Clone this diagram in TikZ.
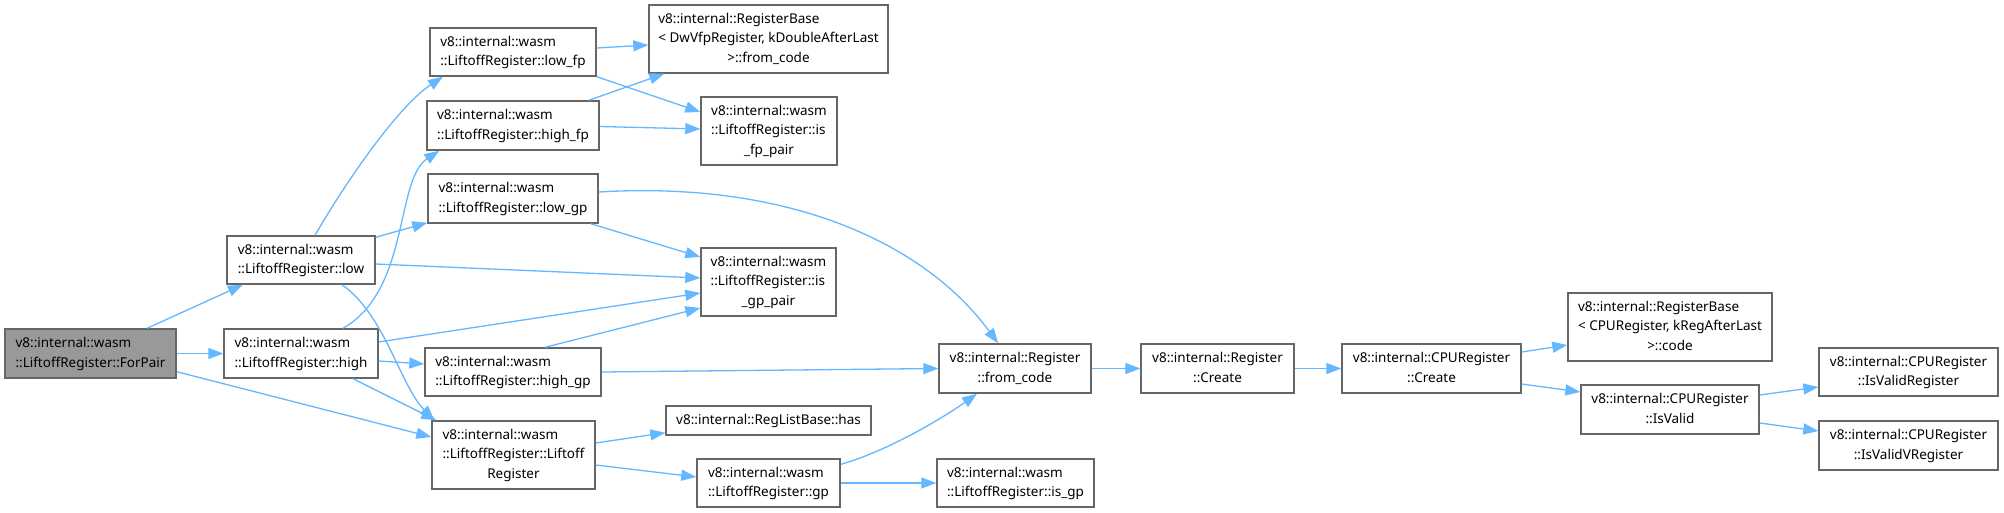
\documentclass[tikz,border=0pt]{standalone}
\usepackage{fontspec}
\setmainfont{Noto Sans}
\usetikzlibrary{arrows.meta}
\definecolor{edgec}{HTML}{63B8FF}
\definecolor{bordc}{HTML}{666666}
\definecolor{hlc}{HTML}{999999}
\newcommand{\twol}[2]{\begin{tabular}{@{}l@{}}#1\\\multicolumn{1}{@{}c@{}}{#2}\end{tabular}}
\newcommand{\threel}[3]{\begin{tabular}{@{}l@{}}#1\\#2\\\multicolumn{1}{@{}c@{}}{#3}\end{tabular}}
\begin{document}
\begin{tikzpicture}[x=1pt,y=-1pt,
  box/.style={draw=bordc, line width=1.4pt, fill=white, inner sep=0pt, rectangle,
    font=\fontsize{13.5}{19.3}\selectfont},
  hl/.style={box, fill=hlc},
  edge/.style={draw=edgec, line width=1.3pt, -{Triangle[length=15pt,width=11pt]}, color=edgec}]
\useasboundingbox[fill=white] (0,0) rectangle (2004,513);

\node[hl, minimum width=171pt, minimum height=49pt] (forpair) at (90.5,353.5) {\twol{v8::internal::wasm}{::LiftoffRegister::ForPair}};
\node[box, minimum width=148pt, minimum height=48pt] (low) at (301,260) {\twol{v8::internal::wasm}{::LiftoffRegister::low}};
\node[box, minimum width=154pt, minimum height=49pt] (high) at (301,353.5) {\twol{v8::internal::wasm}{::LiftoffRegister::high}};
\node[box, minimum width=166pt, minimum height=48pt] (lowfp) at (513,52) {\twol{v8::internal::wasm}{::LiftoffRegister::low\_fp}};
\node[box, minimum width=172pt, minimum height=49pt] (highfp) at (513,125.5) {\twol{v8::internal::wasm}{::LiftoffRegister::high\_fp}};
\node[box, minimum width=170pt, minimum height=49pt] (lowgp) at (513,198.5) {\twol{v8::internal::wasm}{::LiftoffRegister::low\_gp}};
\node[box, minimum width=176pt, minimum height=48pt] (highgp) at (513,372) {\twol{v8::internal::wasm}{::LiftoffRegister::high\_gp}};
\node[box, minimum width=163pt, minimum height=68pt] (ctor) at (513.5,455) {\threel{v8::internal::wasm}{::LiftoffRegister::Liftoff}{Register}};
\node[box, minimum width=239pt, minimum height=68pt] (rbdw) at (768.5,39) {\threel{v8::internal::RegisterBase}{< DwVfpRegister, kDoubleAfterLast}{>::from\_code}};
\node[box, minimum width=136pt, minimum height=68pt] (isfp) at (769,131) {\threel{v8::internal::wasm}{::LiftoffRegister::is}{\_fp\_pair}};
\node[box, minimum width=135pt, minimum height=68pt] (isgp) at (768.5,282) {\threel{v8::internal::wasm}{::LiftoffRegister::is}{\_gp\_pair}};
\node[box, minimum width=205pt, minimum height=29pt] (has) at (768.5,420.5) {v8::internal::RegListBase::has};
\node[box, minimum width=143pt, minimum height=48pt] (gp) at (768.5,483) {\twol{v8::internal::wasm}{::LiftoffRegister::gp}};
\node[box, minimum width=152pt, minimum height=49pt] (fromcode) at (1015,368.5) {\twol{v8::internal::Register}{::from\_code}};
\node[box, minimum width=157pt, minimum height=48pt] (isgpx) at (1015.5,483) {\twol{v8::internal::wasm}{::LiftoffRegister::is\_gp}};
\node[box, minimum width=153pt, minimum height=49pt] (create) at (1217.5,368.5) {\twol{v8::internal::Register}{::Create}};
\node[box, minimum width=179pt, minimum height=49pt] (cpucreate) at (1431.5,368.5) {\twol{v8::internal::CPURegister}{::Create}};
\node[box, minimum width=204pt, minimum height=68pt] (rbcpu) at (1670,327) {\threel{v8::internal::RegisterBase}{< CPURegister, kRegAfterLast}{>::code}};
\node[box, minimum width=178pt, minimum height=49pt] (isvalid) at (1670,409.5) {\twol{v8::internal::CPURegister}{::IsValid}};
\node[box, minimum width=179pt, minimum height=48pt] (isvalidreg) at (1908.5,372) {\twol{v8::internal::CPURegister}{::IsValidRegister}};
\node[box, minimum width=179pt, minimum height=49pt] (isvalidvreg) at (1908.5,445.5) {\twol{v8::internal::CPURegister}{::IsValidVRegister}};

% edges
\draw[edge] ([xshift=56.5pt]forpair.north) -- ([xshift=-58pt]low.south);
\draw[edge] (forpair.east) -- (high.west);
\draw[edge] ([yshift=7pt]forpair.south east) -- ([yshift=18pt]ctor.west);
\draw[edge] ([xshift=14pt]low.north) .. controls (350,175) and (400,105) .. ([xshift=-70pt]lowfp.south);
\draw[edge] ([yshift=-2pt]low.north east) -- ([yshift=1pt]lowgp.south west);
\draw[edge] ([yshift=-4pt]low.east) -- ([yshift=4pt]isgp.west);
\draw[edge] ([xshift=41pt]low.south) .. controls (385,315) and (400,385) .. ([xshift=3pt]ctor.north west);
\draw[edge] ([xshift=42pt]high.north) .. controls (410,290) and (395,180) .. ([xshift=13pt]highfp.south west);
\draw[edge] ([yshift=11.5pt]high.east) -- ([yshift=-11pt]isgp.west);
\draw[edge] ([yshift=-7.5pt]high.east) -- ([yshift=8pt]highgp.west);
\draw[edge] ([xshift=52pt]high.south) -- ([xshift=5pt]ctor.north west);
\draw[edge] ([yshift=4pt]lowfp.east) -- ([yshift=-6pt]rbdw.west);
\draw[edge] (lowfp.south east) -- ([yshift=19pt]isfp.west);
\draw[edge] ([xshift=-11pt]highfp.north east) -- ([xshift=16pt]rbdw.south west);
\draw[edge] ([yshift=-1pt]highfp.east) -- ([yshift=2pt]isfp.west);
\draw[edge] ([yshift=6.5pt]lowgp.east) .. controls (800,180) and (930,250) .. ([xshift=-17pt]fromcode.north);
\draw[edge] ([xshift=-8pt]lowgp.south east) -- ([yshift=25pt]isgp.west);
\draw[edge] ([xshift=32pt]highgp.north) -- ([yshift=-26pt]isgp.west);
\draw[edge] (highgp.east) -- (fromcode.west);
\draw[edge] ([yshift=12pt]ctor.east) -- ([yshift=3pt]has.south west);
\draw[edge] ([yshift=-10pt]ctor.east) -- ([yshift=6pt]gp.west);
\draw[edge] ([yshift=-6pt]gp.north east) .. controls (885,452) and (940,420) .. ([xshift=-38pt]fromcode.south);
\draw[edge] (gp.east) -- (isgpx.west);
\draw[edge] (fromcode.east) -- (create.west);
\draw[edge] (create.east) -- (cpucreate.west);
\draw[edge] ([yshift=16.5pt]cpucreate.east) -- ([yshift=-18pt]rbcpu.west);
\draw[edge] ([yshift=-15.5pt]cpucreate.east) -- ([yshift=17.5pt]isvalid.west);
\draw[edge] ([yshift=14.5pt]isvalid.east) -- ([yshift=-15pt]isvalidreg.west);
\draw[edge] ([yshift=-13.5pt]isvalid.east) -- ([yshift=14.5pt]isvalidvreg.west);
\end{tikzpicture}
\end{document}
